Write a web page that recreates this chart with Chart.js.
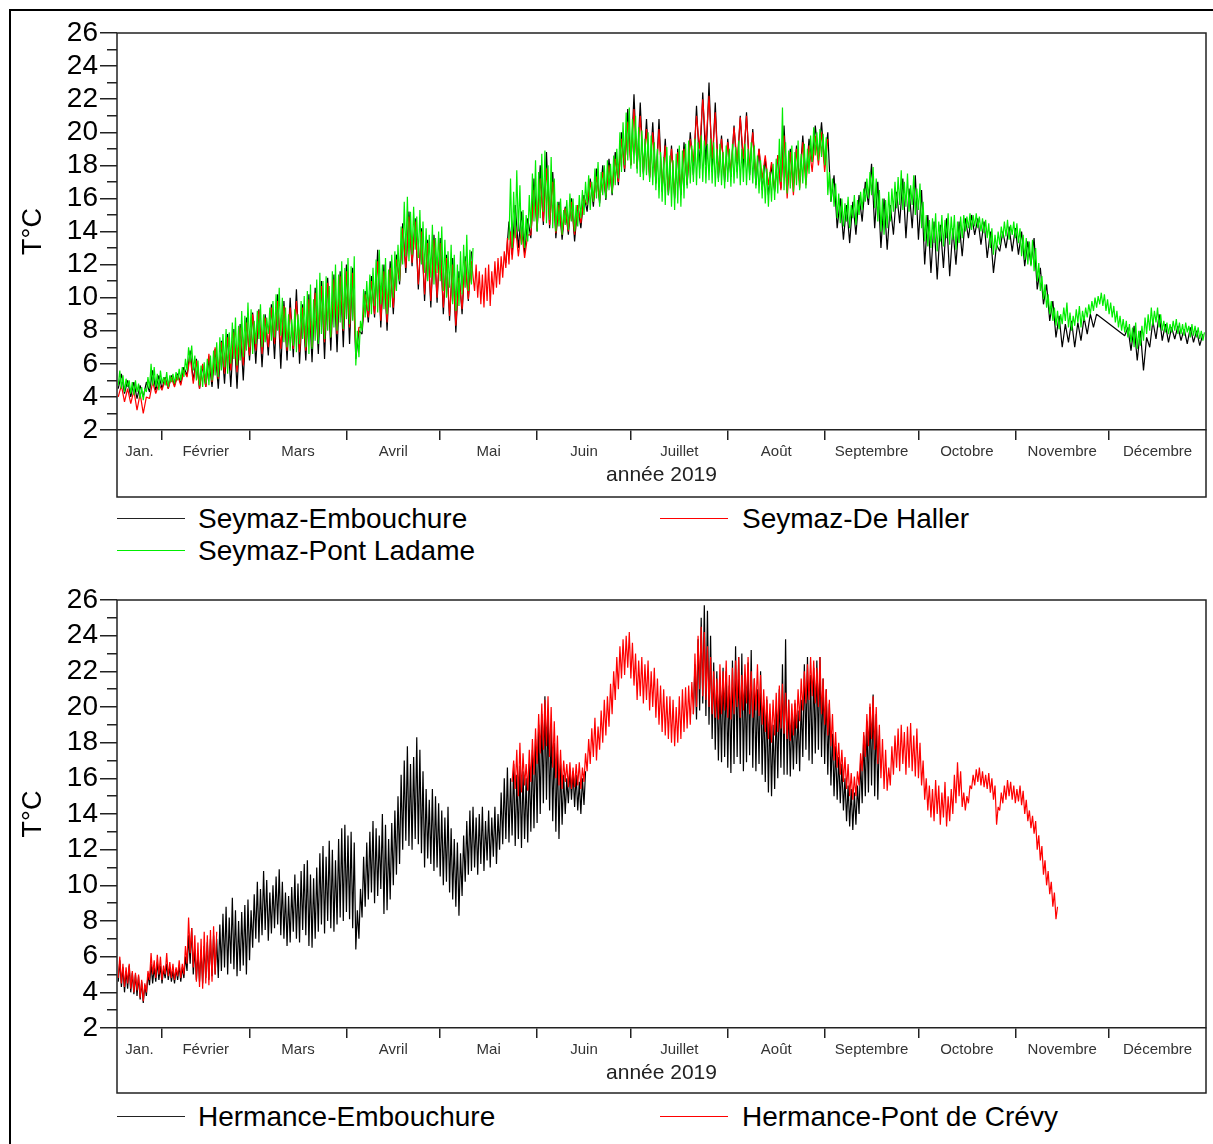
<!DOCTYPE html>
<html><head><meta charset="utf-8">
<script src="https://cdn.jsdelivr.net/npm/chart.js@4.4.1/dist/chart.umd.min.js"></script>
<style>
html,body{margin:0;padding:0;background:#fff;}
body{width:1213px;height:1144px;position:relative;overflow:hidden;font-family:'Liberation Sans',Arial,sans-serif;}
#frame{position:absolute;left:9px;top:9px;width:1210px;height:1140px;border-left:2px solid #000;border-top:2px solid #000;}
canvas{position:absolute;left:0;}
#c1{top:0}
#c2{top:567px}
.leg{position:absolute;font-size:28px;line-height:32px;color:#000;white-space:nowrap;}
.sw{position:absolute;width:68px;height:0;border-top:1.6px solid #000;}
</style></head>
<body>
<div id="frame"></div>
<canvas id="c1" width="1213" height="500"></canvas>
<canvas id="c2" width="1213" height="530"></canvas>
<div class="sw" style="left:117px;top:518px;border-color:#222"></div>
<div class="leg" style="left:198px;top:503px">Seymaz-Embouchure</div>
<div class="sw" style="left:660px;top:518px;border-color:#f00"></div>
<div class="leg" style="left:742px;top:503px">Seymaz-De Haller</div>
<div class="sw" style="left:117px;top:550px;border-color:#00ee00"></div>
<div class="leg" style="left:198px;top:535px">Seymaz-Pont Ladame</div>
<div class="sw" style="left:117px;top:1116px;border-color:#222"></div>
<div class="leg" style="left:198px;top:1101px">Hermance-Embouchure</div>
<div class="sw" style="left:660px;top:1116px;border-color:#f00"></div>
<div class="leg" style="left:742px;top:1101px">Hermance-Pont de Crévy</div>
<script>
// ---------- axis data ----------
const monthStarts = [31,59,90,120,151,181,212,243,273,304,334];
const monthMids = [23.8,45,74.5,105,135.5,166,196.5,227.5,258,288.5,319,349.5];
const monthNames = ['Jan.','Février','Mars','Avril','Mai','Juin','Juillet','Août','Septembre','Octobre','Novembre','Décembre'];
const yTicks = [2,3,4,5,6,7,8,9,10,11,12,13,14,15,16,17,18,19,20,21,22,23,24,25,26];
const dayMin = 16.6, dayMax = 365;

// ---------- Seymaz-Pont Ladame (daily min / max) ----------
const spl_A_start = 17;
const spl_A_lo = [4.7,4.5,4.3,4.6,4.2,4.1,4.3,3.9,3.8,4.3,
 4.5,4.7,4.6,4.4,4.8,4.7,4.6,4.9,4.8,5.0,
 5.0,5.2,5.6,6.1,5.6,5.0,4.7,4.6,4.8,4.7,
 5.0,5.3,5.2,5.6,5.8,5.4,6.0,6.3,5.9,6.2,
 6.4,6.8,7.0,6.6,7.2,7.5,7.0,7.3,7.8,7.4,
 7.6,8.0,7.7,7.3,7.0,6.8,7.1,6.7,7.2,7.5,
 7.0,6.6,6.9,7.4,7.2,7.8,7.5,8.0,7.6,8.2,
 8.0,8.5,8.1,8.7,8.4,8.6,5.9,6.4,8.0,8.8,
 9.2,9.0,9.5,9.1,9.6,9.3,9.0,9.4,10.0,10.4,
 11.0,12.0,12.5,12.2,12.6,12.9,12.4,12.0,11.5,11.0,
 11.2,10.8,11.5,11.0,10.4,10.0,10.6,9.6,9.2,9.5,
 10.2,10.6,10.4,10.8];
const spl_A_hi = [5.6,5.3,5.1,5.0,4.9,5.0,4.8,4.6,4.5,5.2,
 6.0,5.8,5.4,5.6,5.2,5.5,5.3,5.4,5.5,5.7,
 5.8,6.3,7.0,7.1,6.5,6.2,5.9,6.1,6.3,6.5,
 6.8,7.3,7.6,7.8,8.1,7.9,8.5,8.8,8.3,9.2,
 8.9,9.7,9.3,8.6,9.2,9.6,9.0,8.8,9.4,9.8,
 10.2,10.6,10.0,9.4,9.0,8.7,9.3,9.0,9.8,10.1,
 10.4,10.8,9.9,11.1,11.5,11.0,11.3,10.7,11.6,12.0,
 11.4,12.2,11.8,12.4,11.9,12.5,8.0,8.6,10.5,11.0,
 11.4,11.8,12.3,12.9,12.0,12.4,11.7,12.6,12.8,13.2,
 14.3,15.8,16.1,15.2,15.5,14.9,15.3,14.6,14.2,13.8,
 14.4,13.6,14.0,14.3,13.5,12.8,13.2,12.6,12.0,12.8,
 13.2,13.8,12.9,13.0];
const spl_B_start = 142;
const spl_B_lo = [13.5,13.0,13.6,14.0,13.2,
 13.0,13.4,14.2,14.6,14.0,14.8,15.2,14.5,14.7,14.2,
 14.0,14.3,13.8,14.4,14.1,14.6,14.0,14.3,14.8,15.0,
 15.6,15.3,15.8,16.0,15.5,16.2,16.0,16.5,16.3,16.8,
 17.2,17.6,18.0,18.3,17.8,18.1,17.5,17.3,17.1,17.4,
 17.0,16.8,16.5,16.0,15.8,15.6,16.2,15.5,15.3,15.7,
 15.5,16.0,16.6,16.9,17.0,16.8,17.2,17.0,16.9,17.1,
 16.9,16.7,17.0,16.8,16.6,17.0,16.7,16.9,17.2,16.8,
 17.0,16.8,17.1,16.9,16.6,16.3,16.0,15.7,15.5,15.8,
 15.9,16.3,17.0,16.5,16.3,16.6,16.4,16.8,16.5,16.9,
 16.6,17.5,18.2,18.6,18.3,18.5,18.0,16.2,15.8,15.5,
 14.8,14.5,14.3,14.6,14.2,14.8,14.4,15.0,15.3,15.8,
 16.0,16.2,15.4,14.6,14.0,13.8,14.2,14.6,15.2,15.4,
 15.6,15.3,15.5,15.2,15.6,15.0,15.3,14.2,13.4,13.1,
 13.0,13.3,12.8,13.4,13.1,13.6,13.2,13.5,12.9,13.3,
 13.6,14.0,14.2,14.1,14.3,14.2,14.0,13.9,13.6,13.0,
 12.6,12.9,13.2,13.6,13.7,13.5,13.8,13.6,13.3,12.5,
 12.3,12.0,11.9,11.6,11.0,10.4,9.9,9.4,9.0,8.6,
 8.3,8.1,8.4,8.6,8.2,8.0,8.3,8.5,8.2,8.6,
 8.8,9.0,9.2,9.4,9.6,9.5,9.2,9.0,8.8,8.5,
 8.2,8.0,7.9,7.6,7.3,7.0,6.9,7.1,7.4,7.8,
 8.0,8.3,8.5,8.2,8.0,7.9,7.8,7.9,8.0,7.8,
 7.8,7.7,7.9,7.6,7.7,7.6,7.5,7.4];
const spl_B_hi = [17.2,16.4,17.7,16.8,15.3,
 15.0,16.2,17.5,18.3,17.6,18.7,18.9,18.0,18.5,17.2,
 15.8,16.0,15.3,15.9,16.3,16.0,15.6,16.2,16.5,17.0,
 17.4,17.0,17.8,18.2,17.6,18.0,18.3,18.1,18.6,19.0,
 20.0,20.6,21.2,21.5,20.8,21.0,20.3,20.1,19.6,20.0,
 19.8,19.4,19.0,18.8,18.5,19.1,18.6,18.3,18.7,19.2,
 18.9,19.3,19.5,19.2,19.6,19.4,19.8,19.5,19.3,19.6,
 19.4,19.0,19.3,18.8,19.2,19.0,19.3,19.1,19.5,19.0,
 19.3,19.0,19.4,19.2,18.6,18.3,18.0,17.8,17.6,18.1,
 18.4,19.6,21.5,19.4,18.9,19.2,18.8,19.5,18.7,19.3,
 19.0,19.8,20.3,20.0,20.2,19.9,19.7,17.6,17.2,16.9,
 16.3,16.0,15.7,16.1,15.6,16.2,15.9,16.4,16.6,17.2,
 17.6,17.9,17.2,16.5,16.0,15.9,16.4,16.6,17.0,17.3,
 17.7,17.0,17.5,16.8,17.4,16.6,16.9,15.8,15.0,14.7,
 14.8,15.1,14.6,15.0,14.7,15.1,14.9,15.0,14.6,14.9,
 15.0,14.9,15.1,15.0,15.1,14.9,14.8,14.7,14.5,14.2,
 13.8,14.0,14.3,14.6,14.7,14.4,14.6,14.5,14.2,13.8,
 13.6,13.4,13.5,13.0,12.1,11.3,10.8,10.2,9.8,9.4,
 9.2,9.0,9.4,9.7,9.1,8.9,9.3,9.5,9.2,9.4,
 9.6,9.8,10.0,10.1,10.3,10.2,9.9,9.7,9.5,9.2,
 8.9,8.7,8.6,8.4,8.2,8.5,8.0,8.3,8.8,9.0,
 9.4,9.2,9.4,9.0,8.6,8.5,8.4,8.6,8.7,8.5,
 8.4,8.5,8.3,8.4,8.3,8.2,8.0,7.9];

// ---------- Seymaz-Embouchure (min / max every 2 days) ----------
const se_A_start = 17;
const se_A_lo = [4.5,4.2,4.0,3.9,4.0,4.3,4.4,4.5,4.5,4.7,
 4.8,5.3,5.0,4.5,4.6,4.6,4.5,4.8,4.6,4.5,
 5.0,6.2,6.0,5.8,6.5,6.3,5.7,6.2,6.4,6.0,
 6.2,6.1,6.6,6.3,6.8,6.7,7.0,7.2,6.3,7.8,
 8.5,8.8,8.2,8.0,9.0,10.8,11.5,11.9,10.5,9.8,
 9.4,9.7,9.0,8.6,7.9,9.0,9.8];
const se_A_hi = [5.4,5.0,4.9,4.7,4.9,5.6,5.3,5.2,5.3,5.4,
 5.8,6.8,6.3,5.9,6.3,6.9,7.4,7.8,8.1,8.4,
 8.8,9.1,9.3,9.0,9.6,10.2,9.8,10.0,10.5,9.6,
 10.2,10.6,11.0,11.2,11.4,11.6,12.0,11.8,8.0,10.4,
 11.3,12.9,12.0,12.2,12.6,14.5,15.2,14.8,14.2,13.5,
 13.8,13.6,12.6,12.4,11.6,12.5,12.8];
const se_B_start = 141;
const se_B_lo = [12.1,12.6,13.0,12.7,13.6,14.0,14.4,14.2,13.6,13.5,
 13.8,13.4,14.2,15.2,15.5,15.7,15.9,16.2,16.8,17.6,
 18.0,17.8,17.5,17.2,16.9,16.4,16.2,16.0,16.2,16.8,
 17.4,17.8,18.0,17.6,17.2,17.0,17.3,17.6,17.8,17.4,
 16.8,16.5,16.2,16.4,16.6,16.5,16.8,17.0,17.2,18.2,
 18.5,18.0,15.8,14.2,13.5,13.3,13.8,14.6,15.6,14.2,
 13.0,12.9,13.8,14.5,13.6,14.2,13.5,12.0,11.5,11.1,
 11.8,11.3,12.0,12.5,13.6,13.8,13.2,12.4,11.5,12.8,
 13.0,12.8,12.6,11.9,12.0,10.5,9.6,8.6,7.6,7.0,
 7.3,7.0,7.4,7.8,8.2];
const se_B_hi = [14.6,15.6,15.2,14.8,17.2,18.0,18.8,17.6,15.8,15.5,
 16.0,15.6,16.2,17.2,17.8,18.0,18.4,18.8,20.0,21.4,
 22.3,21.8,20.8,20.6,20.8,19.6,19.2,19.0,19.4,20.0,
 21.6,22.4,23.0,21.8,19.8,19.6,20.4,21.0,21.2,20.2,
 19.0,18.4,18.0,18.6,20.4,19.0,19.2,19.8,19.6,20.4,
 20.6,20.0,17.4,16.0,15.6,15.8,16.2,17.0,18.1,17.0,
 16.0,15.6,16.4,17.2,16.6,17.4,16.5,15.0,14.6,14.4,
 14.8,14.2,14.6,14.8,15.0,14.8,14.6,14.0,13.2,14.0,
 14.3,14.2,14.0,13.4,13.6,11.8,10.8,9.8,8.9,8.4,
 8.6,8.5,8.8,9.0,9.0];
const se_C_start = 339;
const se_C_lo = [7.7,6.8,6.2,5.6,7.0,7.5,7.4,7.3,7.5,7.4,7.2,7.3,7.1];
const se_C_hi = [8.2,8.3,8.0,7.6,8.6,9.0,8.4,8.2,8.3,8.1,8.2,8.0,7.8];

// ---------- Seymaz-De Haller ----------
const sdh_A_start = 17;   // every 2 days
const sdh_A_lo = [4.0,3.7,3.6,3.2,3.0,3.9,4.2,4.4,4.5,4.6,
 4.7,5.2,4.8,4.5,4.6,4.9,5.1,5.4,5.6,5.5,
 5.9,6.5,6.8,6.6,7.0,7.2,6.9,6.8,6.9,6.7,
 6.8,7.0,7.4,7.3,7.6,7.8,8.0,8.2,6.8,8.2,
 8.8,9.0,8.6,8.5,9.4,11.0,11.8,12.1,10.8,10.2,
 9.8,10.0,9.4,8.9,8.3,9.3,9.9];
const sdh_A_hi = [4.7,4.5,4.4,4.2,4.0,4.9,4.8,5.1,5.2,5.3,
 5.6,6.5,6.2,6.0,6.6,7.0,7.3,7.6,7.9,8.2,
 8.5,9.0,9.2,8.8,9.4,9.8,9.5,9.4,9.8,9.4,
 9.9,10.3,10.7,10.9,11.1,11.3,11.6,11.5,8.2,10.2,
 11.0,12.2,11.6,11.8,12.3,14.2,14.9,14.6,14.0,13.3,
 13.5,13.3,12.4,12.0,11.2,12.2,12.2];
const sdh_B_start = 131;  // daily
const sdh_B_lo = [10.4,10.0,9.6,9.4,9.8,9.5,10.2,10.6,10.8,11.2,11.8,12.0];
const sdh_B_hi = [12.0,11.6,11.4,11.8,12.0,11.6,12.2,12.4,12.5,12.8,13.6,14.0];
const sdh_C_start = 143;  // every 2 days
const sdh_C_lo = [12.3,12.5,12.4,13.8,14.2,14.6,14.4,
 13.9,13.8,14.0,13.8,14.5,15.6,15.8,15.9,16.2,16.4,
 17.0,17.8,18.0,17.9,17.6,17.3,17.0,16.6,16.4,16.2,
 16.4,17.0,18.2,19.0,19.2,18.4,17.5,17.3,17.6,18.2,
 18.4,17.8,17.4,17.2,16.8,16.6,16.5,16.0,16.2,16.6,
 16.8,17.6,18.0,17.6];
const sdh_C_hi = [14.5,14.2,13.8,16.5,17.2,17.8,17.0,
 15.6,15.4,15.8,15.6,16.0,17.0,17.3,17.6,18.0,18.4,
 19.6,20.6,21.4,21.0,20.2,20.0,20.2,19.2,19.0,18.8,
 19.0,19.6,21.0,22.0,22.2,21.2,19.6,19.4,20.3,20.9,
 21.0,20.0,19.0,18.6,18.2,18.6,19.8,18.8,19.0,19.4,
 19.2,19.8,20.0,19.6];

// ---------- Hermance-Embouchure (daily min / max) ----------
const he_A_start = 17;
const he_A_lo = [4.6,4.3,4.0,4.2,4.0,3.9,3.8,3.6,3.4,3.8,
 4.4,4.5,4.6,4.7,4.5,4.8,4.7,4.6,4.5,4.7,
 4.6,4.8,5.2,5.6,5.0,4.7,4.6,4.5,4.8,4.7,
 4.9,5.0,4.8,5.2,5.4,5.0,5.6,5.3,4.9,5.2,
 5.5,5.0,5.8,6.5,7.0,6.8,7.2,7.5,6.9,7.3,
 7.6,7.8,7.2,7.0,6.6,6.8,7.4,7.0,6.8,7.5,
 7.2,6.6,6.5,7.0,7.4,7.8,7.3,8.0,7.6,7.4,
 7.8,8.2,8.0,8.5,8.1,7.6,6.4,7.0,8.2,8.8,
 9.2,9.6,9.0,9.4,9.8,8.4,8.6,9.2,10.0,10.6,
 11.2,12.0,12.5,12.2,12.0,12.6,12.3,11.8,11.0,11.5,
 11.2,10.8,11.0,10.5,10.0,10.2,9.6,9.2,8.8,8.3,
 9.4,10.2,10.6,10.8,11.0,10.6,11.2,10.8,11.4,11.0,
 11.6,11.2,12.0,12.3,12.6,12.4,12.8,12.2,12.6,12.1,
 12.6,12.4,13.0,13.2,13.5,14.0,14.6,14.8,14.2,13.6,
 13.0,12.6,13.4,14.0,14.6,14.8,14.4,14.2,14.0,14.5];
const he_A_hi = [5.8,5.4,5.2,5.5,5.1,5.0,4.9,4.6,4.4,5.0,
 5.6,5.4,5.7,5.5,5.3,5.6,5.4,5.2,5.3,5.5,
 5.4,6.0,7.2,7.6,6.4,6.2,6.4,6.6,6.8,7.0,
 7.2,7.0,7.8,8.4,8.8,8.2,9.3,8.6,8.0,8.5,
 8.9,9.2,8.6,9.5,10.2,9.8,10.8,10.3,9.6,10.0,
 10.5,10.9,10.2,9.6,9.4,9.9,10.6,10.1,10.8,11.2,
 11.4,10.6,10.4,11.0,11.8,12.2,11.6,12.5,12.0,11.4,
 12.6,13.2,13.4,12.8,13.0,12.4,8.6,9.8,11.6,12.4,
 13.0,13.6,13.2,12.8,14.0,13.4,12.6,13.5,14.2,15.0,
 16.2,17.0,17.8,16.8,17.2,18.3,17.6,16.4,15.4,14.8,
 15.4,15.0,14.6,14.2,13.8,14.4,13.2,12.6,12.4,11.8,
 12.8,13.6,14.2,14.4,13.8,14.0,14.4,13.6,14.2,13.8,
 14.4,14.0,15.2,16.0,16.6,16.0,16.8,16.2,16.7,16.4,
 16.0,16.8,17.6,18.2,19.0,19.6,20.6,19.8,18.8,18.0,
 17.4,16.8,16.2,16.0,16.5,16.4,16.2,15.8,16.0,16.4];
const he_B_start = 201;
const he_B_lo = [19.6,19.3,19.8,20.2,19.5,19.0,18.2,17.6,17.0,16.9,
 17.2,16.6,16.3,16.8,17.2,16.8,16.4,16.9,17.3,16.6,
 16.4,16.8,16.2,15.8,15.2,15.0,15.4,16.0,16.6,16.2,
 16.2,16.1,16.5,16.8,16.4,17.2,17.6,17.0,16.8,17.4,
 17.6,17.2,16.8,16.2,15.6,15.0,14.8,14.6,14.2,13.6,
 13.3,13.1,13.4,14.0,14.6,15.0,15.2,15.6,15.0,14.8];
const he_B_hi = [22.4,23.8,25.0,25.7,25.4,24.0,22.5,22.0,21.4,22.2,
 22.0,21.2,22.6,23.4,22.8,23.0,21.8,22.5,23.2,21.6,
 21.0,22.0,20.4,20.4,19.6,19.0,20.0,21.0,22.4,23.8,
 20.4,19.6,20.2,19.8,20.4,22.4,22.8,21.8,22.2,22.6,
 22.8,21.6,21.0,20.2,18.5,17.8,17.2,16.8,16.0,15.6,
 15.4,15.2,15.6,17.0,18.4,19.2,20.0,20.7,19.6,18.4];

// ---------- Hermance-Pont de Crévy (daily min / max) ----------
const hc_A_start = 17;
const hc_A_lo = [4.8,4.5,4.3,4.5,4.2,4.0,4.1,3.7,3.5,4.0,
 4.7,5.0,4.8,5.0,4.7,5.0,4.9,4.8,4.7,4.9,
 4.8,5.0,5.6,6.2,5.4,4.6,4.3,4.2,4.5,4.4,
 4.6,5.0];
const hc_A_hi = [6.0,5.6,5.4,5.6,5.2,5.1,5.0,4.7,4.5,5.2,
 6.2,5.8,6.1,6.0,5.5,6.2,5.7,5.6,5.4,5.8,
 5.6,6.6,8.2,7.6,7.2,6.8,7.0,7.4,7.2,7.5,
 7.7,7.4];
const hc_B_start = 143;
const hc_B_lo = [15.8,15.4,15.0,15.2,15.6,15.3,15.8,16.2,16.8,17.4,
 17.6,17.8,17.2,16.6,16.0,15.6,15.4,15.8,15.5,15.4,
 15.5,15.6,15.4,15.8,16.4,16.8,17.2,17.0,17.6,18.0,
 18.4,18.9,19.6,20.4,21.0,21.6,21.8,22.2,21.6,21.2,
 20.4,20.6,20.2,20.4,19.8,20.0,19.4,19.0,18.6,18.4,
 18.2,18.0,17.8,18.0,18.2,18.6,18.8,19.0,19.6,20.0,
 21.0,20.6,20.4,20.0,19.6,19.4,19.3,19.6,19.8,19.4,
 19.3,19.6,20.0,19.4,19.8,20.2,19.6,19.4,19.8,19.5,
 19.0,18.6,18.2,18.0,18.4,18.6,18.8,18.5,18.2,18.1,
 18.4,18.8,19.2,19.8,20.2,20.4,20.6,20.2,20.0,19.6,
 19.0,18.4,17.8,17.0,16.6,16.2,15.8,15.4,15.0,14.8,
 15.0,15.6,16.4,17.2,17.8,18.2,17.6,16.8,16.0,15.4,
 15.3,15.6,16.2,16.6,16.4,16.8,16.2,16.6,16.4,16.1,
 16.0,15.6,14.8,14.2,13.8,13.6,14.0,13.4,13.8,13.3,
 13.6,14.0,14.6,15.0,14.4,14.2,14.6,15.4,15.6,15.8,
 15.6,15.5,15.4,15.2,14.8,13.4,14.2,14.6,14.8,15.0,
 14.8,14.6,14.7,14.5,14.0,13.6,13.2,12.9,12.0,11.4,
 10.6,10.0,9.5,8.8,8.1];
const hc_B_hi = [17.0,17.6,18.0,17.4,16.8,17.6,18.2,18.8,19.6,20.2,
 20.4,20.6,20.0,19.2,18.4,17.6,17.0,16.8,16.9,16.6,
 16.8,16.9,16.6,17.4,18.2,18.8,19.4,18.9,19.8,20.4,
 20.6,21.3,22.0,22.8,23.4,23.8,24.0,24.2,23.6,23.0,
 22.6,22.8,22.4,22.6,22.0,22.2,21.6,21.2,21.0,20.6,
 20.6,20.4,20.0,20.6,21.0,21.1,21.2,21.4,23.0,24.0,
 24.5,24.2,23.4,22.8,22.0,21.6,22.4,22.0,22.6,21.8,
 22.2,22.6,22.8,21.8,22.4,22.8,22.0,21.6,22.4,21.8,
 21.0,20.6,20.2,20.4,20.8,21.2,21.3,20.8,20.4,20.2,
 20.4,21.0,21.6,22.0,22.4,22.8,22.6,22.2,22.8,21.6,
 21.0,20.4,19.6,18.6,18.0,17.6,17.2,16.8,16.3,16.1,
 16.4,17.4,18.6,19.6,20.2,20.6,20.0,19.0,18.2,17.6,
 16.6,17.8,18.4,18.8,19.0,18.6,18.9,19.1,18.4,18.8,
 18.0,17.0,16.0,15.6,15.4,15.9,15.6,15.2,15.8,15.0,
 15.4,16.2,16.9,16.4,15.2,15.0,15.6,16.2,16.5,16.6,
 16.4,16.2,16.3,16.0,15.6,14.4,15.2,15.6,15.9,15.8,
 15.6,15.4,15.6,15.3,14.8,14.2,13.9,13.6,12.8,12.2,
 11.4,10.8,10.2,9.6,8.8];

// ---------- builders ----------
// each segment: first day, day step, daily minima, daily maxima (max placed half a step after the min)
function seg(start, step, lo, hi) { return {start, step, lo, hi}; }
function buildPoints(segments) {
  const pts = [];
  segments.forEach(s => {
    const n = Math.min(s.lo.length, s.hi.length);
    for (let i = 0; i < n; i++) {
      const d = s.start + i * s.step;
      pts.push({x: d, y: s.lo[i]});
      pts.push({x: d + s.step / 2, y: s.hi[i]});
    }
  });
  return pts;
}
// spanGaps as a number: longest gap (in days) still joined by a line
function ds(label, color, segments, maxGap) {
  return {label, data: buildPoints(segments), borderColor: color, backgroundColor: color,
    borderWidth: 1.2, pointRadius: 0, fill: false, spanGaps: maxGap, tension: 0,
    borderJoinStyle: 'bevel', xAxisID: 'x', yAxisID: 'y'};
}

Chart.defaults.font.family = "'Liberation Sans', Arial, sans-serif";

const boxPlugin = {
  id: 'plotBox',
  afterDraw(chart) {
    const {ctx, chartArea: a} = chart;
    const bottom = chart.scales.x2.bottom;
    ctx.save();
    ctx.strokeStyle = '#222';
    ctx.lineWidth = 1.5;
    ctx.strokeRect(a.left, a.top, a.right - a.left, bottom - a.top);
    ctx.restore();
  }
};

function makeOptions(x2Height, titlePadBottom, padBottom) {
  return {
    responsive: false, animation: false, devicePixelRatio: 1,
    layout: {padding: {top: 33, right: 7, bottom: padBottom, left: 0}},
    plugins: {legend: {display: false}, tooltip: {enabled: false}},
    scales: {
      x: {
        type: 'linear', position: 'bottom', weight: 0, min: dayMin, max: dayMax,
        afterBuildTicks: s => { s.ticks = monthStarts.map(v => ({value: v})); },
        ticks: {display: false},
        grid: {drawOnChartArea: false, drawTicks: true, tickLength: 10, color: '#222', lineWidth: 1.5},
        border: {display: true, color: '#222', width: 1.5},
        afterFit: s => { s.height = 10; }
      },
      x2: {
        type: 'linear', position: 'bottom', weight: 1, min: dayMin, max: dayMax,
        afterBuildTicks: s => { s.ticks = monthMids.map(v => ({value: v})); },
        ticks: {autoSkip: false, maxRotation: 0, minRotation: 0, padding: 3, color: '#333',
          font: {size: 15}, callback: (v, i) => monthNames[i]},
        grid: {display: false, drawTicks: false},
        border: {display: false},
        title: {display: true, text: 'année 2019', color: '#222', font: {size: 21},
          padding: {top: 0, bottom: titlePadBottom}},
        afterFit: s => { s.height = x2Height; }
      },
      y: {
        type: 'linear', position: 'left', min: 2, max: 26,
        afterBuildTicks: s => { s.ticks = yTicks.map(v => ({value: v})); },
        ticks: {autoSkip: false, padding: 2, color: '#000', font: {size: 28},
          callback: v => (v % 2 === 0 ? String(v) : '')},
        grid: {drawOnChartArea: false, drawTicks: true, tickLength: 17, color: '#222', lineWidth: 1.5,
          tickBorderDash: c => (c.tick && c.tick.value % 2 !== 0) ? [0, 7, 10, 0] : []},
        border: {display: false},
        title: {display: true, text: 'T°C', color: '#000', font: {size: 27}, padding: {top: 17, bottom: 0}},
        afterFit: s => { s.width = 117; }
      }
    }
  };
}

new Chart(document.getElementById('c1'), {
  type: 'line',
  data: {datasets: [
    ds('Seymaz-Pont Ladame', '#00ee00', [seg(spl_A_start, 1, spl_A_lo, spl_A_hi), seg(spl_B_start, 1, spl_B_lo, spl_B_hi)], 5),
    ds('Seymaz-De Haller', '#ff0000', [seg(sdh_A_start, 2, sdh_A_lo, sdh_A_hi), seg(sdh_B_start, 1, sdh_B_lo, sdh_B_hi), seg(sdh_C_start, 2, sdh_C_lo, sdh_C_hi)], 5),
    ds('Seymaz-Embouchure', '#000000', [seg(se_A_start, 2, se_A_lo, se_A_hi), seg(se_B_start, 2, se_B_lo, se_B_hi), seg(se_C_start, 2, se_C_lo, se_C_hi)], 10)
  ]},
  options: makeOptions(57, 9, 3),
  plugins: [boxPlugin]
});

new Chart(document.getElementById('c2'), {
  type: 'line',
  data: {datasets: [
    ds('Hermance-Pont de Crévy', '#ff0000', [seg(hc_A_start, 1, hc_A_lo, hc_A_hi), seg(hc_B_start, 1, hc_B_lo, hc_B_hi)], 5),
    ds('Hermance-Embouchure', '#000000', [seg(he_A_start, 1, he_A_lo, he_A_hi), seg(he_B_start, 1, he_B_lo, he_B_hi)], 5)
  ]},
  options: makeOptions(55, 7, 4),
  plugins: [boxPlugin]
});
</script>
</body></html>
